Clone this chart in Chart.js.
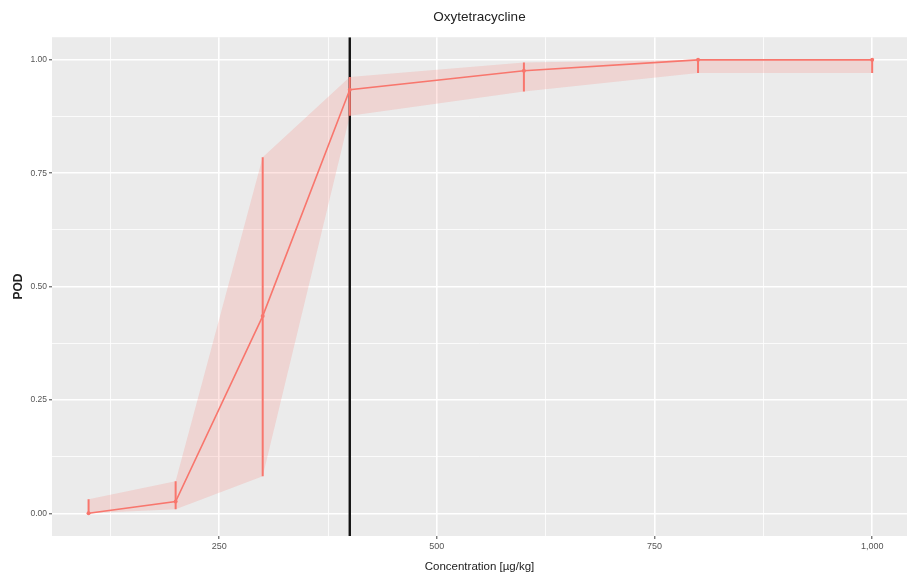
<!DOCTYPE html>
<html>
<head>
<meta charset="utf-8">
<title>Oxytetracycline</title>
<script src="https://cdn.jsdelivr.net/npm/chart.js@4.4.1/dist/chart.umd.min.js"></script>
<style>
  html, body { margin: 0; padding: 0; background: #fff; }
  canvas { display: block; }
</style>
</head>
<body>
<canvas id="chartPOD" width="911" height="579"></canvas>
<script>
/* POD curve - Oxytetracycline */

// concentration levels (µg/kg) and probability of detection
const concentration = [100, 200, 300, 400, 600, 800, 1000];
const pod = [0.000, 0.026, 0.435, 0.934, 0.976, 1.000, 1.000];
const podLower = [0.000, 0.009, 0.082, 0.877, 0.930, 0.971, 0.971];
const podUpper = [0.031, 0.071, 0.785, 0.962, 0.994, 1.000, 1.000];

// reference concentration (vertical line)
const refConcentration = 400;

// axis ticks
const xTicks = [250, 500, 750, 1000];
const xMinorTicks = [125, 375, 625, 875];
const yTicks = [0, 0.25, 0.5, 0.75, 1];
const yMinorTicks = [0.125, 0.375, 0.625, 0.875];

const red = '#f8766d';
const ribbon = 'rgba(248, 118, 109, 0.2)';
const fontFamily = '"Liberation Sans", Arial, Helvetica, sans-serif';

const points = (ys) => concentration.map((c, i) => ({ x: c, y: ys[i] }));

/* grey panel behind the grid */
const panelBackground = {
  id: 'panelBackground',
  beforeDraw(chart) {
    const { ctx, chartArea: a } = chart;
    ctx.save();
    ctx.fillStyle = '#ebebeb';
    ctx.fillRect(a.left, a.top, a.right - a.left, a.bottom - a.top);
    ctx.restore();
  },
};

/* datasets */
const datasets = [
  {
    // ribbon: upper bound filled down to the lower bound
    data: points(podUpper),
    borderWidth: 0,
    pointRadius: 0,
    backgroundColor: ribbon,
    fill: '+1',
    order: 5,
  },
  {
    data: points(podLower),
    borderWidth: 0,
    pointRadius: 0,
    fill: false,
    order: 6,
  },
  {
    // POD line
    data: points(pod),
    borderColor: red,
    borderWidth: 1.6,
    pointRadius: 2,
    pointBackgroundColor: red,
    pointBorderWidth: 0,
    fill: false,
    order: 1,
  },
  {
    // vertical reference line
    data: [
      { x: refConcentration, y: -0.05 },
      { x: refConcentration, y: 1.05 },
    ],
    borderColor: '#111',
    borderWidth: 2.4,
    pointRadius: 0,
    fill: false,
    order: 10,
  },
];

// error bars, one segment per concentration
for (let i in concentration) {
  datasets.push({
    data: [
      { x: concentration[i], y: podLower[i] },
      { x: concentration[i], y: podUpper[i] },
    ],
    borderColor: red,
    borderWidth: 2,
    pointRadius: 0,
    fill: false,
    order: 2,
  });
}

const isMajor = (list, v) => list.some((t) => Math.abs(t - v) < 1e-9);

const ctx = document.getElementById('chartPOD').getContext('2d');
const chartPOD = new Chart(ctx, {
  type: 'line',
  data: { datasets: datasets },
  plugins: [panelBackground],
  options: {
    responsive: false,
    animation: false,
    events: [],
    layout: { padding: { left: 0, right: 3, top: 0, bottom: 0 } },
    elements: { line: { tension: 0 } },
    scales: {
      x: {
        type: 'linear',
        min: 58,
        max: 1040,
        afterBuildTicks: (scale) => {
          scale.ticks = xMinorTicks
            .concat(xTicks)
            .sort((a, b) => a - b)
            .map((v) => ({ value: v }));
        },
        afterFit: (scale) => {
          scale.height = 43;
        },
        border: { display: false },
        grid: {
          color: '#ffffff',
          lineWidth: (c) => (isMajor(xTicks, c.tick.value) ? 1.6 : 0.8),
          drawTicks: true,
          tickLength: 3,
          tickWidth: 1,
          tickColor: (c) =>
            isMajor(xTicks, c.tick.value) ? '#444' : 'rgba(0,0,0,0)',
        },
        ticks: {
          autoSkip: false,
          maxRotation: 0,
          padding: 2,
          color: '#555',
          font: { family: fontFamily, size: 9 },
          callback: (v) =>
            isMajor(xTicks, v) ? v.toLocaleString('en-US') : '',
        },
        title: {
          display: true,
          text: 'Concentration [µg/kg]',
          color: '#222',
          font: { family: fontFamily, size: 11.5 },
          padding: { top: 0, bottom: 5 },
        },
      },
      y: {
        type: 'linear',
        min: -0.05,
        max: 1.05,
        afterBuildTicks: (scale) => {
          scale.ticks = yMinorTicks
            .concat(yTicks)
            .sort((a, b) => a - b)
            .map((v) => ({ value: v }));
        },
        afterFit: (scale) => {
          scale.width = 52;
        },
        border: { display: false },
        grid: {
          color: '#ffffff',
          lineWidth: (c) => (isMajor(yTicks, c.tick.value) ? 1.6 : 0.8),
          drawTicks: true,
          tickLength: 3,
          tickWidth: 1,
          tickColor: (c) =>
            isMajor(yTicks, c.tick.value) ? '#444' : 'rgba(0,0,0,0)',
        },
        ticks: {
          autoSkip: false,
          padding: 2,
          color: '#555',
          font: { family: fontFamily, size: 8.5 },
          callback: (v) => (isMajor(yTicks, v) ? v.toFixed(2) : ''),
        },
        title: {
          display: true,
          text: 'POD',
          color: '#222',
          font: { family: fontFamily, size: 12, weight: 'bold' },
          padding: { top: 11, bottom: 0 },
        },
      },
    },
    plugins: {
      legend: { display: false },
      tooltip: { enabled: false },
      title: {
        display: true,
        fullSize: false,
        text: 'Oxytetracycline',
        color: '#222',
        font: { family: fontFamily, size: 13.5, weight: 'normal' },
        padding: { top: 9, bottom: 12 },
      },
    },
  },
});
</script>
</body>
</html>
